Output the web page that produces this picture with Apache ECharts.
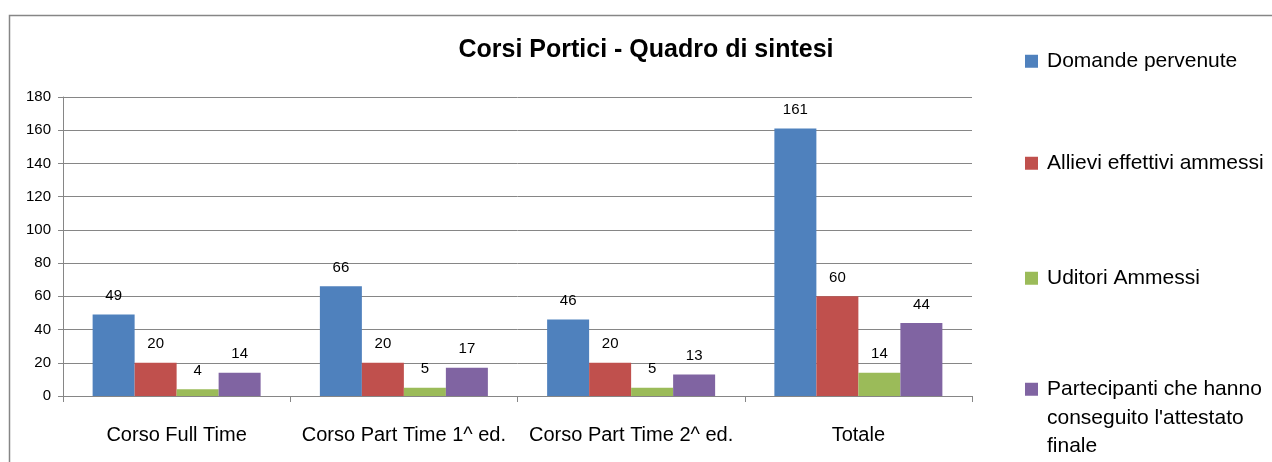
<!DOCTYPE html>
<html>
<head>
<meta charset="utf-8">
<script src="https://cdn.jsdelivr.net/npm/echarts@6/dist/echarts.min.js"></script>
<style>html,body{margin:0;padding:0;background:#fff}#c{width:1272px;height:462px}</style>
</head>
<body>
<div id="c"></div>
<script>
const categories = ['Corso Full Time', 'Corso Part Time 1^ ed.', 'Corso Part Time 2^ ed.', 'Totale'];
const seriesNames = ['Domande pervenute', 'Allievi effettivi ammessi', 'Uditori Ammessi', "Partecipanti che hanno conseguito l'attestato finale"];
const domande = [49, 66, 46, 161];
const allievi = [20, 20, 20, 60];
const uditori = [4, 5, 5, 14];
const partecipanti = [14, 17, 13, 44];
const colors = ['#4F81BD', '#C0504D', '#9BBB59', '#8064A2'];
const yTicks = { min: 0, max: 180, interval: 20 };

const FONT = '"Liberation Sans", Arial, sans-serif';
const chart = echarts.init(document.getElementById('c'), null, { renderer: 'canvas' });
const values = [domande, allievi, uditori, partecipanti];
const legendCenters = [61, 163, 278, 388];

const legends = seriesNames.map((n, i) => {
  const last = i === 3;
  return {
    data: [n],
    left: 1025,
    top: last ? legendCenters[i] - 70 : legendCenters[i] - 14,
    padding: 0,
    icon: 'rect',
    itemWidth: 13,
    itemHeight: 13,
    selectedMode: false,
    formatter: last ? () => "\n\nPartecipanti che hanno\nconseguito l'attestato\nfinale" : undefined,
    textStyle: {
      fontFamily: FONT, fontSize: 21, color: '#000', lineHeight: 28.5,
      padding: [0, 0, 0, 4]
    }
  };
});

chart.setOption({
  animation: false,
  title: {
    text: 'Corsi Portici - Quadro di sintesi',
    left: 641, top: 33, textAlign: 'center',
    textStyle: { fontFamily: FONT, fontSize: 25, fontWeight: 'bold', color: '#000' }
  },
  graphic: [{
    type: 'rect', silent: true,
    shape: { x: 9.5, y: 15.5, width: 1300, height: 500 },
    style: { fill: 'none', stroke: '#868686', lineWidth: 1.5 }
  }],
  legend: legends,
  grid: { left: 63, right: 300, top: 97, bottom: 66, containLabel: false },
  xAxis: {
    type: 'category', data: categories,
    axisLine: { lineStyle: { color: '#868686' } },
    axisTick: { show: true, length: 6, interval: 0, lineStyle: { color: '#868686' } },
    axisLabel: { fontFamily: FONT, fontSize: 20, color: '#000', margin: 29, interval: 0 }
  },
  yAxis: {
    type: 'value', min: yTicks.min, max: yTicks.max, interval: yTicks.interval,
    axisLine: { show: true, lineStyle: { color: '#868686' } },
    axisTick: { show: true, length: 5, lineStyle: { color: '#868686' } },
    splitLine: { lineStyle: { color: '#868686' } },
    axisLabel: { fontFamily: FONT, fontSize: 15, color: '#000', margin: 12 }
  },
  series: seriesNames.map((n, i) => ({
    name: n, type: 'bar', data: values[i],
    barWidth: 42, barGap: '0%',
    itemStyle: { color: colors[i] },
    label: { show: true, position: 'top', distance: 11, fontFamily: FONT, fontSize: 15, color: '#000' }
  }))
});
</script>
</body>
</html>
